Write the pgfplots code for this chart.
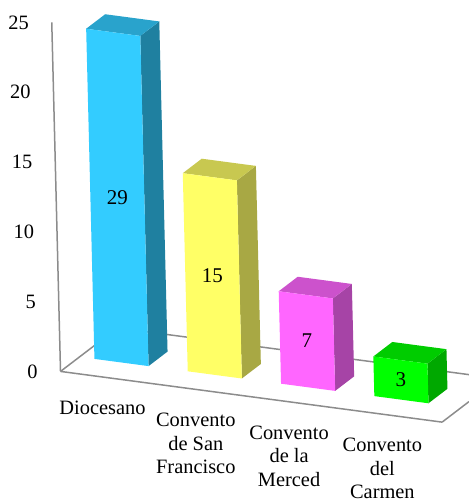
\documentclass[border=0pt]{standalone}
\usepackage{pgfplots}
\pgfplotsset{compat=1.18}
\usepackage{pgfplotstable}
\usepackage{fontspec}
\setmainfont{Liberation Serif}

\definecolor{axisgray}{HTML}{8C8C8C}
\definecolor{bluefront}{HTML}{33CCFF}
\definecolor{bluetop}{HTML}{29A3CC}
\definecolor{blueside}{HTML}{1F80A0}
\definecolor{yelfront}{HTML}{FFFF66}
\definecolor{yeltop}{HTML}{C8C850}
\definecolor{yelside}{HTML}{A8A844}
\definecolor{magfront}{HTML}{FF66FF}
\definecolor{magtop}{HTML}{CC52CC}
\definecolor{magside}{HTML}{A644A6}
\definecolor{grnfront}{HTML}{00FF00}
\definecolor{grntop}{HTML}{00CC00}
\definecolor{grnside}{HTML}{00A800}

% data: category index and value
\pgfplotstableread{
i v
0 29
1 15
2 7
3 3
}\datatable

% cuboid: #1 category index, #2 value (clipped at the axis maximum 25),
% #3 front, #4 side, #5 top colour.
% u = across (-1..1, half width 0.29), d = depth (1 front .. 2 back),
% z = fraction of the height; 0.946 = perspective shrink of the bars
\newcommand\cuboid[5]{%
  \addplot[fill=#4, draw=none] table[row sep=\\,
    x expr={#1+0.29*\thisrow{u}+0.2082*\thisrow{d}},
    y expr={0.946*min(#2,25)*\thisrow{z}+1.2236*\thisrow{d}}]
    {u d z\\ 1 1 0\\ 1 2 0\\ 1 2 1\\ 1 1 1\\};
  \addplot[fill=#5, draw=none] table[row sep=\\,
    x expr={#1+0.29*\thisrow{u}+0.2082*\thisrow{d}},
    y expr={0.946*min(#2,25)*\thisrow{z}+1.2236*\thisrow{d}}]
    {u d z\\ -1 1 1\\ 1 1 1\\ 1 2 1\\ -1 2 1\\};
  \addplot[fill=#3, draw=none] table[row sep=\\,
    x expr={#1+0.29*\thisrow{u}+0.2082*\thisrow{d}},
    y expr={0.946*min(#2,25)*\thisrow{z}+1.2236*\thisrow{d}}]
    {u d z\\ -1 1 0\\ 1 1 0\\ 1 1 1\\ -1 1 1\\};
}

\begin{document}
\begin{tikzpicture}[font=\fontsize{10.2bp}{11.8bp}\selectfont]
\begin{axis}[
  x={(46.65bp,-6.2bp)}, y={(-0.175bp,6.98bp)},
  xmin=-0.45, xmax=3.64, ymin=0, ymax=25,
  enlargelimits=false,
  axis lines=left,
  axis line style={-, draw=axisgray, line width=0.75bp},
  clip=false,
  xtick={0,1,2,3},
  xticklabels={Diocesano,{Convento\\de San\\Francisco},{Convento\\de la\\Merced},{Convento\\del\\Carmen}},
  xticklabel style={anchor=north, align=center, yshift=-8.4bp},
  ytick={0,5,...,25},
  yticklabel style={anchor=east, xshift=-8bp},
  major tick length=0pt,
  /pgf/number format/assume math mode=true,
  tick label style={font=\fontsize{10.2bp}{11.8bp}\selectfont},
]
\coordinate (O) at (axis cs:0,0);
% floor outline (left, back and right edges)
\addplot[draw=axisgray, line width=0.75bp] coordinates {(-0.45,0) (0.1746,3.6708) (3.942,3.6708)};
\addplot[draw=axisgray, line width=0.75bp] coordinates {(3.64,0) (3.9348,1.7326)};
% bars
\cuboid{0}{29}{bluefront}{blueside}{bluetop}
\cuboid{1}{15}{yelfront}{yelside}{yeltop}
\cuboid{2}{7}{magfront}{magside}{magtop}
\cuboid{3}{3}{grnfront}{grnside}{grntop}
% value labels in the middle of the front faces
\addplot[draw=none, nodes near coords, point meta=explicit symbolic,
  every node near coord/.append style={anchor=center, font=\fontsize{10.5bp}{12bp}\selectfont}]
  table[x expr={\thisrow{i}+0.2082}, y expr={1.2236+0.946*min(\thisrow{v},25)/2}, meta=v] {\datatable};
\end{axis}
\pgfresetboundingbox
\path (O) ++(-51.25bp,-62bp) rectangle ++(234.5bp,250.5bp);
\end{tikzpicture}
\end{document}
